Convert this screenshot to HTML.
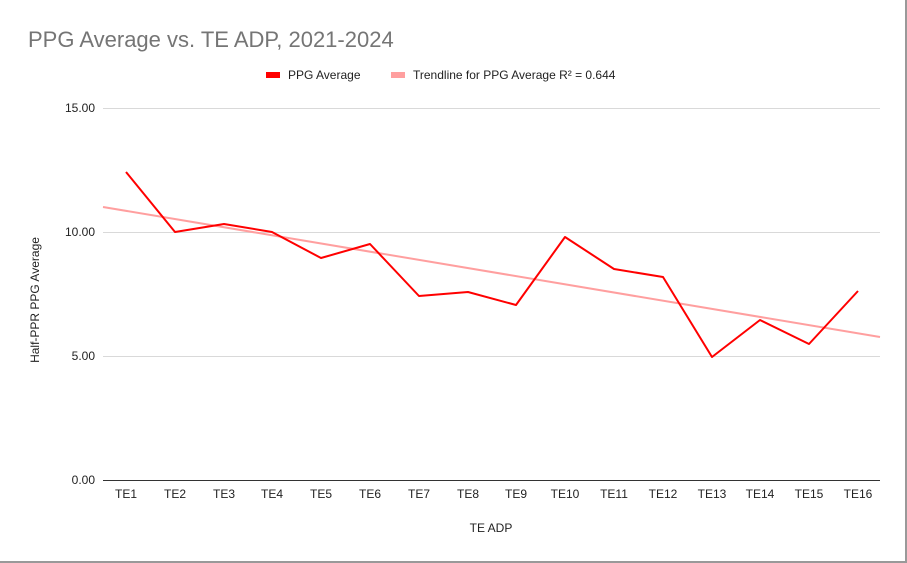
<!DOCTYPE html>
<html><head><style>
body{margin:0;background:#fff;}
svg{display:block;font-family:"Liberation Sans",Arial,sans-serif;}
</style></head><body>
<svg width="907" height="563" viewBox="0 0 907 563">
<rect x="0" y="0" width="907" height="563" fill="#fff"/>
<line x1="906" y1="0" x2="906" y2="563" stroke="#999" stroke-width="2"/>
<line x1="0" y1="562" x2="907" y2="562" stroke="#999" stroke-width="2"/>
<text x="28" y="47" font-size="22" fill="#757575">PPG Average vs. TE ADP, 2021-2024</text>
<rect x="266" y="72" width="14" height="6" fill="#ff0000"/>
<text x="288" y="79" font-size="12" fill="#222">PPG Average</text>
<rect x="391" y="72" width="14" height="6" fill="#ff9f9f"/>
<text x="413" y="79" font-size="12" fill="#222">Trendline for PPG Average R² = 0.644</text>
<g stroke="#d9d9d9" stroke-width="1">
<line x1="103" y1="108.5" x2="880" y2="108.5"/>
<line x1="103" y1="232.5" x2="880" y2="232.5"/>
<line x1="103" y1="356.5" x2="880" y2="356.5"/>
</g>
<line x1="103" y1="480.5" x2="880" y2="480.5" stroke="#333" stroke-width="1"/>
<g font-size="12" fill="#222" text-anchor="end">
<text x="95" y="112">15.00</text>
<text x="95" y="236">10.00</text>
<text x="95" y="360">5.00</text>
<text x="95" y="484">0.00</text>
</g>
<text transform="translate(39,300) rotate(-90)" font-size="12" fill="#222" text-anchor="middle">Half-PPR PPG Average</text>
<g font-size="12" fill="#222" text-anchor="middle">
<text x="126" y="498">TE1</text><text x="175" y="498">TE2</text><text x="224" y="498">TE3</text><text x="272" y="498">TE4</text>
<text x="321" y="498">TE5</text><text x="370" y="498">TE6</text><text x="419" y="498">TE7</text><text x="468" y="498">TE8</text>
<text x="516" y="498">TE9</text><text x="565" y="498">TE10</text><text x="614" y="498">TE11</text><text x="663" y="498">TE12</text>
<text x="712" y="498">TE13</text><text x="760" y="498">TE14</text><text x="809" y="498">TE15</text><text x="858" y="498">TE16</text>
</g>
<text x="491" y="532" font-size="12" fill="#222" text-anchor="middle">TE ADP</text>
<line x1="103" y1="207" x2="880" y2="337" stroke="#ff9f9f" stroke-width="2"/>
<polyline fill="none" stroke="#ff0000" stroke-width="2" stroke-linejoin="round"
points="126,172 175,232 224,224 272,232 321,258 370,244 419,296 468,292 516,305 565,237 614,269 663,277 712,357 760,320 809,344 858,291"/>
</svg>
</body></html>
